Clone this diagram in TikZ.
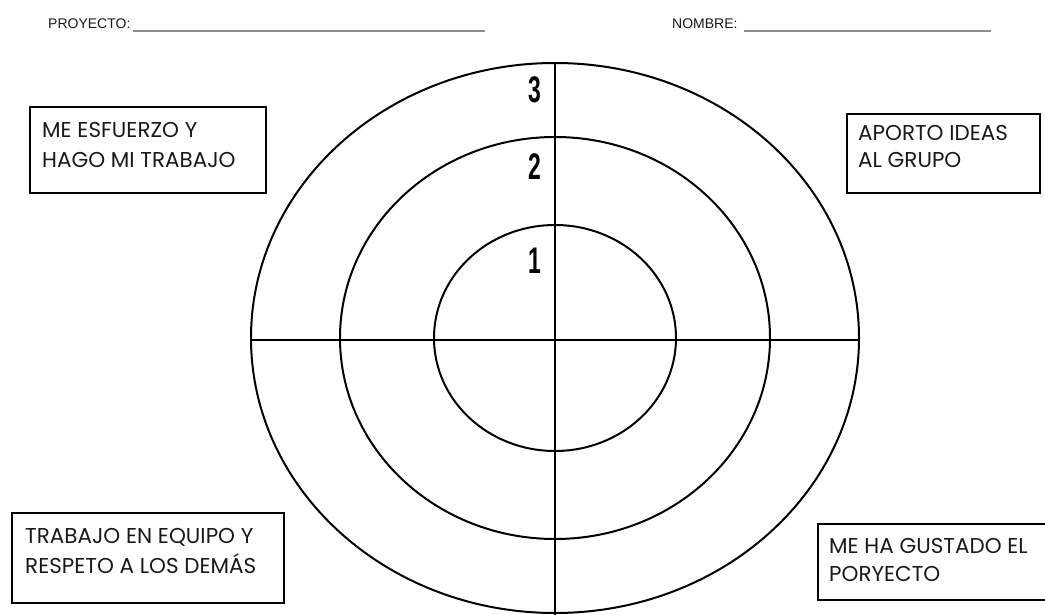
\documentclass[tikz,border=0pt]{standalone}
\usepackage{fontspec}
\setmainfont{Liberation Sans}
\newfontfamily\boxfont{Poppins}
\newfontfamily\numfont{Liberation Sans}
\begin{document}
\begin{tikzpicture}[x=1pt,y=-1pt,
  ring/.style={line width=2pt,black},
  axis/.style={line width=2pt,black},
  box/.style={draw=black,line width=2pt,rectangle,inner sep=0pt,anchor=north west},
  boxtext/.style={font=\boxfont\fontsize{21.5}{21.5}\selectfont,text=black!90,inner sep=0pt,anchor=base west},
  headtext/.style={font=\fontsize{14}{14}\selectfont,text=black!90,inner sep=0pt,anchor=base west},
  blank/.style={line width=1.5pt,black!45},
  num/.style={font=\numfont\bfseries\fontsize{37}{37}\selectfont,inner sep=0pt,anchor=center}]
\useasboundingbox (0,0) rectangle (1045,615);
% header
\node[headtext] (proy) at (48,29) {PROYECTO:};
\coordinate (pl1) at (133,31);
\coordinate (pl2) at (485,31);
\draw[blank] (pl1) -- (pl2);
\node[headtext] (nomb) at (672,29) {NOMBRE:};
\coordinate (nl1) at (744,31);
\coordinate (nl2) at (991,31);
\draw[blank] (nl1) -- (nl2);
% target
\coordinate (c) at (555,338);
\draw[ring] (c) ellipse [x radius=304pt, y radius=275pt];
\draw[ring] (c) ellipse [x radius=215pt, y radius=201pt];
\draw[ring] (c) ellipse [x radius=121pt, y radius=113pt];
\coordinate (vt) at (555,63);
\coordinate (vb) at (555,615);
\coordinate (hl) at (251,340);
\coordinate (hr) at (859,340);
\draw[axis] (vt) -- (vb);
\draw[axis] (hl) -- (hr);
% numbers
\node[num] (n3) at (535,90) {\scalebox{0.62}[1]{3}};
\node[num] (n2) at (535,167) {\scalebox{0.62}[1]{2}};
\node[num] (n1) at (535,261) {\scalebox{0.62}[1]{1}};
% boxes
\node[box,minimum width=236pt,minimum height=86pt] (b1) at (29,106) {};
\node[boxtext] (t1a) at (42,138) {ME ESFUERZO Y};
\node[boxtext] (t1b) at (42,168) {HAGO MI TRABAJO};
\node[box,minimum width=193pt,minimum height=79pt] (b2) at (846,113) {};
\node[boxtext] (t2a) at (858,141) {APORTO IDEAS};
\node[boxtext] (t2b) at (858,168) {AL GRUPO};
\node[box,minimum width=272pt,minimum height=90pt] (b3) at (11,512) {};
\node[boxtext] (t3a) at (25,543) {TRABAJO EN EQUIPO Y};
\node[boxtext] (t3b) at (25,573) {RESPETO A LOS DEMÁS};
\node[box,minimum width=232pt,minimum height=76pt] (b4) at (817,523) {};
\node[boxtext] (t4a) at (829,553) {ME HA GUSTADO EL};
\node[boxtext] (t4b) at (829,581) {PORYECTO};
\end{tikzpicture}
\end{document}
